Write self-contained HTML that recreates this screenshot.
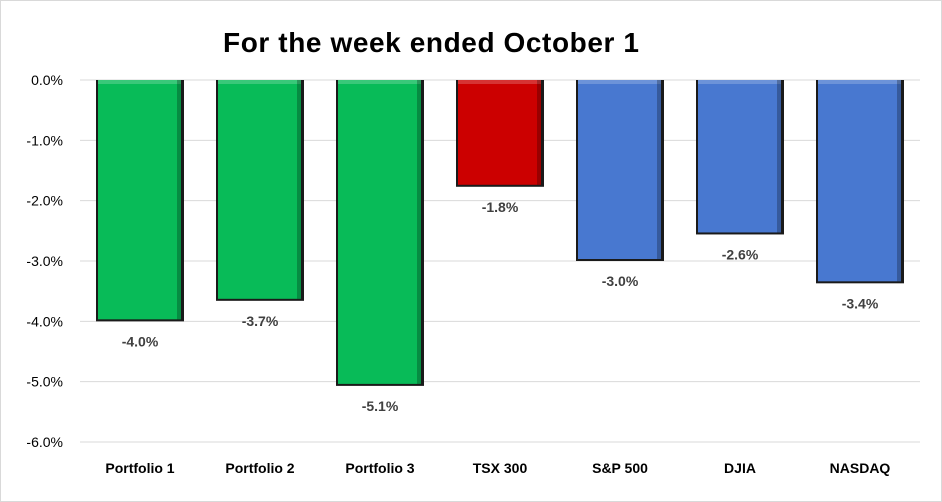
<!DOCTYPE html>
<html><head><meta charset="utf-8"><style>
html,body{margin:0;padding:0;background:#fff}
svg{display:block;font-family:"Liberation Sans",Arial,sans-serif}
</style></head><body>
<svg id="chart" width="942" height="502">
<rect x="0.5" y="0.5" width="941" height="501" fill="#fff" stroke="#d9d9d9"/>
<text x="431" y="52" text-anchor="middle" font-size="28" font-weight="bold" fill="#000" textLength="416">For the week ended October 1</text>
<g id="grid"></g><g id="bars"></g><g id="labels"></g>
</svg>
<script>
const categories=["Portfolio 1","Portfolio 2","Portfolio 3","TSX 300","S&P 500","DJIA","NASDAQ"];
const values=[-4.0,-3.66,-5.07,-1.77,-3.0,-2.56,-3.37];
const colors=["#08bb58","#08bb58","#08bb58","#cc0000","#4878d0","#4878d0","#4878d0"];
const ticks=[0,-1,-2,-3,-4,-5,-6];
const NS="http://www.w3.org/2000/svg";
const x0=80,x1=920,yTop=80,yBot=442,yMin=-6;
const band=(x1-x0)/categories.length,bw=88;
function y(v){return yTop+(v/yMin)*(yBot-yTop);}
function xc(i){return x0+band*(i+0.5);}
function mk(tag,attrs,parent){const e=document.createElementNS(NS,tag);for(const k in attrs)e.setAttribute(k,attrs[k]);parent.appendChild(e);return e;}
const grid=document.getElementById('grid'),bars=document.getElementById('bars'),labels=document.getElementById('labels');
ticks.forEach(t=>{
 const l=mk('line',{x1:x0,x2:x1,y1:y(t),y2:y(t),stroke:'#d9d9d9','stroke-width':1},grid);
 
 
 const tx=mk('text',{x:63,y:y(t)+5,'text-anchor':'end','font-size':14,fill:'#000'},grid);
 tx.textContent=t.toFixed(1)+'%';
 
 
});
values.forEach((v,i)=>{
 const bx=xc(i)-bw/2,by=y(0),bh=y(v)-y(0);
 const g=mk('g',{},bars);
 
 
 mk('rect',{x:bx,y:by,width:bw,height:bh,fill:'#1a1a1a'},g);
 mk('rect',{x:bx+2,y:by,width:bw-5,height:bh-2,fill:colors[i]},g);
 mk('rect',{x:bx+2,y:by,width:bw-5,height:4,fill:'#fff',opacity:0.2},g);
 mk('rect',{x:bx+bw-7,y:by,width:4,height:bh-2,fill:'#000',opacity:0.25},g);
 const vl=mk('text',{x:xc(i),y:y(v)+25,'text-anchor':'middle','font-size':14,'font-weight':'bold',fill:'#404040'},labels);
 vl.textContent=v.toFixed(1)+'%';
 
 
 const cl=mk('text',{x:xc(i),y:473,'text-anchor':'middle','font-size':14,'font-weight':'bold',fill:'#000'},labels);
 cl.textContent=categories[i];
 
 
});
</script>
</body></html>
